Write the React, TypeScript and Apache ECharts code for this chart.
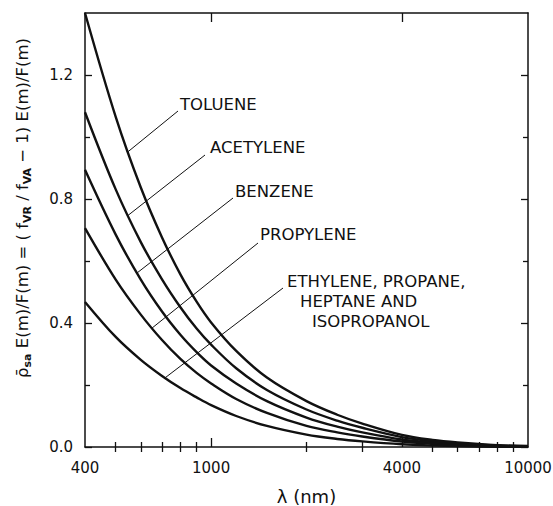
import React, { useEffect, useRef } from "react";
import * as echarts from "echarts";

// Wavelength grid (nm) shared by every curve
const wavelengths = [400, 500, 600, 700, 800, 900, 1000, 1200, 1500, 2000, 2500, 3000, 4000, 5000, 6000, 8000, 10000];

// ρ̄sa E(m)/F(m) for each fuel
const toluene = [1.40, 1.065, 0.837, 0.676, 0.557, 0.469, 0.402, 0.310, 0.224, 0.148, 0.104, 0.0756, 0.039, 0.0226, 0.0145, 0.006, 0.003];
const acetylene = [1.08, 0.831, 0.661, 0.541, 0.451, 0.382, 0.330, 0.254, 0.184, 0.121, 0.085, 0.062, 0.032, 0.0185, 0.0116, 0.0048, 0.0024];
const benzene = [0.894, 0.685, 0.540, 0.437, 0.362, 0.306, 0.263, 0.205, 0.148, 0.095, 0.0655, 0.047, 0.024, 0.014, 0.0087, 0.0036, 0.0015];
const propylene = [0.706, 0.540, 0.427, 0.345, 0.284, 0.239, 0.205, 0.155, 0.110, 0.068, 0.047, 0.034, 0.0176, 0.010, 0.006, 0.0025, 0.001];
const ethyleneGroup = [0.468, 0.355, 0.281, 0.229, 0.190, 0.160, 0.135, 0.100, 0.068, 0.040, 0.026, 0.018, 0.0087, 0.0048, 0.0029, 0.001, 0.0003];

const curves = [toluene, acetylene, benzene, propylene, ethyleneGroup];

// Curve labels and the wavelength at which each leader line meets its curve
const curveLabels = [["TOLUENE"], ["ACETYLENE"], ["BENZENE"], ["PROPYLENE"], ["ETHYLENE, PROPANE,", "HEPTANE AND", "ISOPROPANOL"]];
const leaderWavelengths = [547, 547, 584, 651, 715];

// Axis ticks and labels
const xLabelValues = [400, 1000, 4000, 10000];
const xMajorTicks = [1000, 4000];
const xMinorTicks = [500, 600, 700, 800, 900, 2000, 3000, 5000, 6000, 7000, 8000, 9000];
const yLabelValues = [0, 0.4, 0.8, 1.2];
const yMinorTicks = [0.2, 0.6, 1.0];

const FONT = "DejaVu Sans";
const INK = "#111";

// Label layout (pixels): text anchor per line, and where each leader starts
const labelLines = [
  [{ x: 180, y: 104.5 }],
  [{ x: 210, y: 147.5 }],
  [{ x: 235, y: 191 }],
  [{ x: 260, y: 234 }],
  [{ x: 287, y: 281 }, { x: 300, y: 301 }, { x: 312, y: 321 }],
];
const leaderStarts = [
  [178, 111],
  [205, 155],
  [233, 198],
  [258, 243],
  [283, 288],
];

function valueAt(values: number[], wl: number): number {
  for (let i = 0; i < wavelengths.length - 1; i++) {
    const a = wavelengths[i];
    const b = wavelengths[i + 1];
    if (wl >= a && wl <= b) {
      const t = Math.log(wl / a) / Math.log(b / a);
      return values[i] + t * (values[i + 1] - values[i]);
    }
  }
  return values[values.length - 1];
}

export default function App() {
  const ref = useRef<HTMLDivElement>(null);

  useEffect(() => {
    if (!ref.current) return;
    const chart = echarts.init(ref.current, null, { renderer: "svg" });

    const xBase: any = {
      type: "log",
      logBase: 10,
      min: 400,
      max: 10000,
      splitLine: { show: false },
      minorTick: { show: false },
      minorSplitLine: { show: false },
    };
    const yBase: any = {
      type: "value",
      min: 0,
      max: 1.4,
      splitLine: { show: false },
    };
    const axisLine = { show: true, onZero: false, lineStyle: { color: INK, width: 1.5 } };
    const noLine = { show: false };
    const noLabel = { show: false };
    const tick = (values: number[], length: number) => ({
      show: true,
      inside: true,
      length,
      customValues: values,
      lineStyle: { color: INK, width: 1.3 },
    });

    chart.setOption({
      animation: false,
      backgroundColor: "#fff",
      grid: { left: 85, right: 25, top: 13, bottom: 59, containLabel: false, outerBoundsMode: "none" },
      xAxis: [
        {
          ...xBase,
          position: "bottom",
          axisLine,
          axisTick: tick(xMajorTicks, 9),
          axisLabel: {
            customValues: xLabelValues,
            formatter: (v: number) => String(Math.round(v)),
            margin: 13,
            color: INK,
            fontSize: 15,
            fontFamily: FONT,
          },
          name: "λ (nm)",
          nameLocation: "middle",
          nameGap: 40,
          nameTextStyle: { color: INK, fontSize: 18, fontFamily: FONT },
        },
        { ...xBase, position: "bottom", axisLine: noLine, axisTick: tick(xMinorTicks, 5), axisLabel: noLabel },
        { ...xBase, position: "top", axisLine, axisTick: tick(xMajorTicks, 9), axisLabel: noLabel },
        { ...xBase, position: "top", axisLine: noLine, axisTick: tick(xMinorTicks, 5), axisLabel: noLabel },
      ],
      yAxis: [
        {
          ...yBase,
          position: "left",
          axisLine,
          axisTick: tick(yLabelValues, 7),
          axisLabel: {
            customValues: yLabelValues,
            formatter: (v: number) => v.toFixed(1),
            margin: 12,
            color: INK,
            fontSize: 15,
            fontFamily: FONT,
          },
        },
        { ...yBase, position: "left", axisLine: noLine, axisTick: tick(yMinorTicks, 5), axisLabel: noLabel },
        { ...yBase, position: "right", axisLine, axisTick: tick(yLabelValues, 7), axisLabel: noLabel },
        { ...yBase, position: "right", axisLine: noLine, axisTick: tick(yMinorTicks, 5), axisLabel: noLabel },
      ],
      series: curves.map((values, i) => ({
        type: "line",
        name: curveLabels[i].join(" "),
        xAxisIndex: 0,
        yAxisIndex: 0,
        data: wavelengths.map((wl, j) => [wl, values[j]]),
        showSymbol: false,
        smooth: 0.35,
        lineStyle: { color: INK, width: 2.4 },
        z: 3,
      })),
    });

    const graphics: any[] = [];
    curves.forEach((values, i) => {
      const wl = leaderWavelengths[i];
      const end = chart.convertToPixel({ xAxisIndex: 0, yAxisIndex: 0 }, [wl, valueAt(values, wl)]) as number[];
      const start = leaderStarts[i];
      graphics.push({
        type: "line",
        shape: { x1: start[0], y1: start[1], x2: end[0], y2: end[1] },
        style: { stroke: INK, lineWidth: 1 },
        z: 5,
      });
      curveLabels[i].forEach((text, k) => {
        const pos = labelLines[i][k];
        graphics.push({
          type: "text",
          x: pos.x,
          y: pos.y,
          style: {
            text,
            fill: INK,
            font: `16.5px ${FONT}`,
            align: "left",
            verticalAlign: "middle",
          },
          z: 5,
        });
      });
    });

    // Rotated y-axis title with subscripts
    graphics.push({
      type: "text",
      x: 22,
      y: 208,
      rotation: Math.PI / 2,
      style: {
        text: "{b|ρ̄}{s|sa}{b| E(m)/F(m) = ( f}{s|VR}{b| / f}{s|VA}{b| − 1) E(m)/F(m)}",
        align: "center",
        verticalAlign: "middle",
        fill: INK,
        rich: {
          b: { fontSize: 16.5, fontFamily: FONT, fill: INK, color: INK },
          s: { fontSize: 11, fontFamily: FONT, fontWeight: "bold", fill: INK, color: INK, padding: [11, 0, 0, 0] },
        },
      },
      z: 5,
    });

    chart.setOption({ graphic: graphics });

    return () => chart.dispose();
  }, []);

  return (
    <div
      ref={ref}
      style={{ position: "fixed", left: 0, top: 0, width: 553, height: 506, background: "#fff" }}
    />
  );
}
